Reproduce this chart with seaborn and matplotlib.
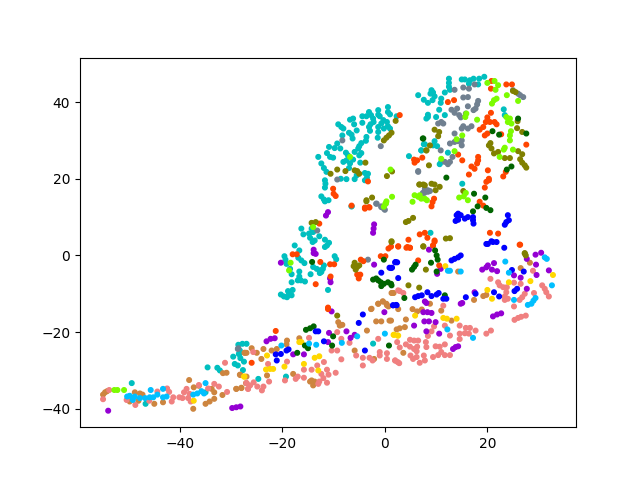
import matplotlib
matplotlib.use("Agg")
import matplotlib.pyplot as plt
import pandas as pd
import seaborn as sns

cyan_pts = [(-49.4,-33.3),(-46.7,-38.7),(-35,-35.7),(-34.6,-29.2),(-32.7,-29.3),(-32.2,-30),(-29.3,-28.3),(-28.7,-28.7),(-27.7,-29.9),(-29.6,-26.4),(-28.5,-25.7),(-28.2,-26.8),(-27.5,-27.7),(-28.6,-23.3),(-27.8,-23.05),(-27,-23.05),(-28.3,-24.8),(-28.4,-25.7),(-24.7,-32.2),(-19.3,-31.6),(-2.3,-23),
(-6.5,12.8),(-11.7,14.1),(-16.3,7),(-15.9,5.5),(-14.8,5.7),(-14.3,7),(-14,6.1),(-14.6,4.6),(-14.1,3.5),(-13.7,3.9),(-12.8,5),(-11.7,4.1),(-11.7,2.2),(-10.9,3.3),(-11.3,2.6),(-17.6,2.6),(-16.7,1.3),(-19.6,-0.2),(-19.4,-1.1),(-16.9,-0.6),(-16.3,-1.3),(-15.7,-2),(-19.2,-2.2),(-9.8,-0.2),(-9.5,-1),(-18.5,-3.5),(-18.2,-4.9),(-16.7,-4.2),(-16.7,-5.5),(-17,-6.5),(-16.4,-6.5),(-15.6,-6.8),(-18.2,-7),(-14,-3),(-13.3,-3.5),(-12.7,-3.9),(-12.1,-3.5),(-12.7,-4.6),(-14.5,-4.9),(-12.4,-4.3),(-11.1,-9),(-18,-9),(-18.9,-9.3),(-20.3,-10.2),(-19.7,-10.7),(-19.1,-10.9),(-18.2,-10.4),(-18.7,-10),(-11.9,-2.6),
(-13,25.7),(-12.4,24),(-11.9,22.8),(-11.4,21.8),(-11.3,26.7),(-10.7,25.7),(-10.1,25.5),(-10.9,28.3),(-9.8,28),(-9.3,29.2),(-8.7,27.9),(-9.1,34.2),(-8.5,33.5),(-8.1,33.1),(-8.3,31.3),(-7,32),(-6.5,31.5),(-6.3,30.5),(-5.5,32.6),(-6.8,35.4),(-6.2,35.7),(-6,34.2),(-4.4,34.6),(-4.4,36.3),(-3.6,36.3),(-3.1,37.4),(-2.7,36.6),(-2.3,35.7),(-2.8,34.2),(-3.1,33.5),(-2.9,32.5),(-2.2,34.8),(-1.3,37.9),(-1.3,36.7),(-1,36.3),(0.6,38.7),(0.6,37.4),(1,36.8),(-0.3,35.3),(0.4,34.8),(-0.7,34.4),(-1.3,33.5),(-1.3,32.2),(-0.2,33.1),(0.6,33.7),(1,33.1),(-3.6,30.9),(-3.7,29.9),(-4.6,29.3),(-5,28.5),(-5.2,27.9),(-5.9,27),(-4.6,26.7),(-5,26.1),(-7.6,26.8),(-7.2,26.1),(-7.5,24.8),(-8.1,24.4),(-6.2,25),(-6.8,24),(-7,22.8),(-4.8,24.2),(-3.9,21.5),(-3.3,21.3),(-3.5,20.3),(-5.5,20.9),(-5.9,19.9),(-3.9,19.6),(-7.5,19.9),(-8.6,20),(-11.7,19.6),(-11.6,18.7),(-11.7,17.7),(-12.4,15.4),(-11.9,14.6),(-11,14.4),(-6.5,12.8),(-1.4,30.7),(2.3,36.3),(7.8,29),(7.1,27.4),(4.7,25.9),(8.4,36.1),
(12.5,46.1),(12.5,45),(12.5,44),(12.7,43.2),(11.7,42.5),(15,45.9),(15.6,45.9),(16.6,45.7),(17.3,46.1),(18.4,46.1),(19.4,46.6),(16.4,44.8),(18.2,44.6),(6.5,41.8),(7.6,40.6),(8.4,39.8),(9.1,43.1),(9.4,42.5),(8.9,42.2),(9.7,41.5),(9.3,40.5),(11,40.9),(10.9,39.8),(10.6,38),(11.7,36.6),(8.4,36.7),(8.1,35.7),(10,36.1),(23.2,38.1),(23.4,36.6),(9.7,29.8),(9.4,28.7),(10.2,28.5),(7.6,29),(7.1,27.4),(12.3,26.8),(11,24.4),(10.7,23.8),(8.9,5.9),(15.1,18.7)]

peru_pts = [(-55,-36.3),(-54.6,-35.7),(-54.2,-35.4),(-49.8,-38.1),(-47.8,-36),(-47.3,-36.3),(-48.8,-35.7),(-48.1,-37.9),(-45,-38.7),(-43.3,-38.3),(-38.2,-32.5),(-37.3,-34.4),(-36.3,-34),(-33.8,-34.8),(-33.3,-35.7),(-31.7,-36.4),(-29,-34.8),(-28,-34.6),(-37.4,-40),(-35,-38.7),(-34.2,-38.1),(-33.3,-37.4),(-31.6,-30.7),(-30.9,-30.6),(-28.2,-31.2),(-27.4,-25.4),(-27,-25.4),
(-26,-24.2),(-27.3,-25.4),(-25,-25.4),(-23.7,-24.4),(-24.1,-27),(-22.1,-24.8),(-21.1,-24.4),(-19.1,-22.2),(-19.2,-23.2),(-16.7,-21.6),(-28.3,-31.1),(-27,-31.6),(-27.1,-33.3),(-28,-34.5),(-29,-34.8),(-23,-31.3),(-17.9,-30.9),(-14.3,-32.6),(-13.7,-32.9),(-14,-33.9),(-14.6,-32.9),(-9.1,-17.4),(-8.8,-18.3),(-8.3,-18.1),(-3.5,-19.6),(-2.7,-14),(-1.3,-12.6),(-0.4,-12),(0.4,-13),(-1.7,-17.2),(-0.7,-17.2),(0.9,-17),(-5.9,-24.8),(-2.1,-27),
(14.3,-4.2),(1.5,-9.8),(5.4,-14),(6.3,-14.6),(7.2,-14.1),(11,-14.4),(8.8,-12.6),(4.1,-16.7),(2.6,-14),(1.2,-17),(2.3,-19.3),(2.9,-19),(3.9,-18.7),(13,-17),(3.6,-25.4),(17.4,-11.6),(19.2,-10.6),(19.8,-10.3),(26.5,-3.3),(28.3,-1.9),
(1.3,-9.8),(1.7,-9.8),(-1.3,-12.6),(-0.4,-12),(0.3,-12.6),(0.7,-13.3),(-2.6,-13.9)]

coral_pts = [(-55,-37.5),(-53.8,-35.1),(-50.4,-37.7),(-48.7,-39),(-46,-37.9),(-44.4,-35.5),(-42.5,-34.7),(-42.1,-35.6),(-41.3,-37),(-41.6,-38.1),(-40.1,-37),(-39.2,-35.7),(-38.7,-34.8),(-39.5,-37.2),(-38.4,-37.2),(-38.1,-36.1),(-37.9,-38.1),(-36.3,-33.8),(-34.5,-34.7),(-33.3,-33.5),(-32.4,-34.2),(-30.8,-35.6),(-31.2,-28),(-27,-33.3),(-26.7,-34.8),
(-25.7,-25.2),(-22.8,-28.3),(-22.6,-32.9),(-23.7,-34.2),(-24,-35.2),(-27,-33.3),(-26.3,-33.9),(-26.7,-34.8),(-25.6,-33.1),(-24.9,-34.2),(-19.1,-27.7),(-19.5,-32.6),(-17.4,-32.2),(-17,-31.6),(-15.8,-29.8),(-15.8,-31.9),(-14.3,-29.8),(-14.8,-21.5),(-13.2,-28.7),(-11.9,-27.8),(-11.3,-29.8),(-12.4,-30.9),(-12,-32),(-11,-31.1),(-12.8,-32.9),(-13,-33.5),(-11.3,-33.2),(-9.6,-30.6),(-10.4,-24.8),(-9.3,-24.8),(-9.3,-20),(-8.5,-27.1),(-8.5,-21.75),(-6.9,-22.8),(-5.6,-26.1),(-4.3,-26.7),(-4.3,-28.7),(-3,-26.7),(-2.4,-27.4),(-1.3,-21.75),(-1,-25.2),(-1,-26.1),(0.4,-25.5),(0.4,-27),(2,-27.4),(2.5,-27.8),
(2.9,-9.3),(3.6,-9.8),(11.4,-13.1),(9.6,-18.5),(9.1,-19.8),(8.4,-21),(11.7,-18.3),(12.7,-20.9),(14.6,-18.3),(15.8,-18.9),(16.6,-18.9),(14.6,-20.4),(15.6,-20.3),(16.4,-20.4),(14.6,-21.8),(17.7,-19.6),(19.8,-20.4),(20.7,-19.6),(2.4,-22.6),(2.9,-24),(4.1,-23.2),(4.9,-22),(5.7,-22.2),(6.5,-22.2),(4.9,-23.8),(5.7,-24.4),(6.3,-23.8),(6.2,-25),(8,-22.6),(8.1,-23.9),(9.9,-23.7),(10.7,-23.8),(11.7,-23.2),(5,-26.1),(5.5,-27),(6.2,-26.5),(7.6,-26.1),(7.8,-27.4),(6.8,-28),(2,-27.4),(2.8,-28.1),(9.4,-26.5),(10.4,-26),(11,-25.2),(11.7,-26),(12.7,-26),
(20.6,-6.1),(22.1,-7),(22.4,-7.8),(23.1,-8.3),(23.8,-8.3),(25.2,-7.1),(26.5,-7.4),(28.9,-4),(23.7,-9.6),(23.4,-10.7),(24,-11.3),(23.4,-11.6),(27.3,-10),(26.8,-10.9),(26.3,-11.6),(29.1,-9.8),(30.7,-7.8),(31.2,-8.7),(31.5,-9.6),(32,-10.7),(25.2,-13.3),(25.3,-16.8),(26,-16.3),(26.6,-16),(27.5,-15.7),(2.6,-9.1)]

lawn_pts = [(-52.8,-35.1),(-52.2,-35.1),(-50.9,-35.1),(-14,7.4),(-18.4,-1.9),(-18.7,-3.9),(0.1,13.5),(0.3,14.1),(-6.8,25.7),(1.1,22.4),(1.4,15.3),(0.2,13.5),(-0.2,12.7),(5.8,15.7),(6.5,15.3),(7.1,14.8),(7.8,14.8),(5.4,14),(8.2,14.4),(6.8,15.7),
(20,45),(21.4,45.5),(22.1,44.4),(21.6,43.2),(23.8,41.8),(26,40.3),(21.8,40.9),(21.3,40.5),(20.9,39.6),(15.9,37),(15.7,36.1),(18,35.4),(15.1,31.3),(14,30.3),(13.6,27.2),(11,25.2),(23.7,36.1),(24.4,35.7),(24.7,34.4),(24,34.8),(24.6,32.4),(24.4,31.3),(24.4,30),(23.4,28.1),(23.2,27.6),(25,27.6),(22.4,25.7),(15.8,16.3),(14.5,15.1),(15.4,15.4),(16.2,14.4)]

sky_pts = [(-50.3,-36.8),(-49.8,-36.6),(-49.2,-37.2),(-48.8,-36.8),(-49.2,-37.7),(-47.8,-37.2),(-46.8,-37.2),(-45.9,-37),(-45.2,-37),(-44.4,-36.3),(-45.7,-35.1),(-43.3,-34.8),(-43.3,-37),(-42.6,-36.8),(-37.4,-36.3),(-36.6,-36),(-35.8,-35.4),(-35.3,-36),(-35,-33.3),(-20.2,-23.5),(-14.8,-23),(-13.4,-23.3),(-8.4,-22.8),(-5.4,-21.1),(0,-20.4),
(12.3,-4),(12.7,-4),(14.8,-4.2),(23.5,-1.6),(24.2,-4.5),(31.2,-0.5),(31.6,-0.9),(32.6,-7.8),(25.2,-11.6),(27.9,-12.9),(28.6,-12.6),(29,-11.8),(29.4,-11.1),(12.2,-19.3),(17.2,-21.5)]

gold_pts = [(-37.3,-37.9),(-27.5,-31.6),(-23,-26.1),(-23.2,-29.75),(-22.4,-29.6),(-21.8,-29.6),(-19.6,-29),(-27.4,-31.6),(-16.7,-22.6),(-16.3,-22.6),(-15.8,-28.3),(-13.7,-26.7),(-12.8,-26.3),(-13,-30),(1.7,-20.7),(2.5,-20.9),
(11.8,-2.8),(32.8,-5.1),(24.2,-7),(28.4,-6.7),(20,-9),(20.9,-11.3),(5.9,-15.7),(11.4,-16.3),(12.1,-16.5),(14,-16.5),(1.8,-20.7),(2.6,-20.9)]

violet_pts = [(-54,-40.5),(-29.8,-39.8),(-29,-39.6),(-28.2,-39.4),(-23.1,-22.4),(-22.3,-21.75),(-21.5,-21.6),(-17.9,-25.8),(-15.8,-25.8),(-10.9,-20.2),(-11.1,-22.6),(-7.5,-19.8),(-6.7,-21.5),(-5.9,-20.7),(-0.1,-14.8),(-10.4,-14.6),
(8.6,1.5),(10.9,-3.5),(10.2,-4.8),(7.8,-12),(8.1,-12.4),(7.5,-14.8),(8.3,-14.8),(9.1,-15),(7.7,-17.2),(8.6,-17.2),(9.9,-17.4),(5.7,-18.3),(8.1,-19.8),(10.6,-20.4),(13.3,-24.4),(13.8,-23.9),(14.3,-23.7),(14.8,-12.6),(15.1,-12.4),(17.5,-9.6),(19,-3.7),(19.8,-3.1),(20.1,-2.6),(21.3,-2),(20.9,-3.7),(21.9,-4.1),(27.7,-0.9),(29.4,0.2),(30.5,0.7),(29.5,-2.4),(32,-3.9),(25.2,-5.2),(26.5,-5.8),(29.6,-5.1),(27.7,-8.7),(21.1,-15.9),(21.9,-15.4),(22.7,-15.1),
(-11.1,11.3),(-11.5,10.4),(-2.1,8.1),(-2.2,7),(-2.3,5.9),(-13.9,1.5),(-13.9,0.6),(-13.5,0.4),(-20.3,-1.9),(-10.7,-6),(-10.6,-7),(-2.1,-2.4)]

slate_pts = [(-28.7,-24.4),(-28.6,-24.2),(-13.2,6.5),(-3.3,-1.1),(-1.7,13.5),(-0.7,12.6),(0,11.9),(-8.3,30),(-0.8,28.5),(6.5,22),(-9.3,19.8),(7.8,17.4),(7.4,16.3),(8.4,16.6),(-1.6,13.5),(-0.7,12.8),(-0.2,12.2),
(10.4,34.4),(11,34.8),(11.4,34.4),(13.6,43.2),(15.3,43.8),(16.4,43.5),(17.5,44.6),(16.2,41.3),(15.3,41.2),(16.2,38.9),(18.2,40.3),(18,39.4),(17.7,38.3),(17.3,37.9),(13,38),(14.1,38.3),(13.6,37.2),(14.5,36.6),(14.8,36),(15.8,37),(15.3,33.7),(16.2,33.1),(16.9,33.7),(15,33.1),(13.6,31.8),(14.3,29.8),(15,30),(12.7,29.2),(13.6,29.6),(15,28.7),(10.9,27.4),(13.2,25.7),(12.7,24.4),(11.7,24.4),(12.3,23.8),(6.5,21.8),(25,43.1),(26,42.2),(26.4,41.8),(27,41.3),(7.8,17),(7.7,16.3),(8.4,17),(8.8,16.8)]

red_pts = [(-21.3,-19.7),(-26,-28),(-11.1,-14),(1.2,2.3),(2.6,2.3),(4.4,2.2),(4.9,2),(9.4,2.6),(9.7,3.6),(6.5,-1.3),(10.6,-2.6),(26.3,2.8),
(-12.8,8.3),(-18,0.3),(-17.2,0.3),(-12.6,-1.7),(-10.7,-2.3),(-9.9,-2.3),(-10.6,-5.5),(-13.5,-7.5),(-4.7,-1.1),(-4.2,-1.5),(-5.4,-5),(-4.8,-5),(-5.1,-6),(0.7,1.8),(-0.8,-0.2),(0.1,-0.2),(-3.9,12.2),(-3.1,12.6),(-11.1,-13.6),
(2.9,36.6),(-3.3,19.3),(-10.1,17.4),(-10,16.1),(-9.6,15.5),(5.7,25),(6.3,24.8),(5.8,24.2),(7.3,25.5),(-6.5,13),(-3.9,12.5),(-3,12.5),
(20.8,45.5),(20.7,43.5),(23.7,44.6),(24.8,44.6),(12.3,40),(13.5,40.5),(20.7,37.2),(20,36),(19.7,34.8),(20.5,34.8),(21.4,34.8),(21.8,34.2),(19.2,33.5),(18.5,32.8),(19.5,31.3),(20,31.8),(22.7,31.6),(27.6,28.9),(14.3,26.3),(15.1,24.8),(18.2,25.7),(18.2,24.8),(18,24),(16.9,23.2),(17.5,22.6),(16.4,21.1),(20.1,22.2),(20.3,20),(23.6,21.8),
(19.8,19.2),(20.3,19.6),(19.5,17.7),(23.1,20.6),(18.5,14),(19.2,13),(9.6,14.8),(9.3,13.9),(9.1,12.8),(6.8,5.5),(7.8,5.9),(8.3,4.6),(4.6,4.1),(2.6,2.4),(4.2,2),(4.9,2),(9.7,3.9),(9.4,2.6),(20.5,5.9),(22.1,5.7),(26.4,2.8)]

olive_pts = [(-9.3,-15.7),(7.5,2.3),(8,-3.7),(4.6,-7.8),(6.7,-8.4),(27.3,0.6),(27.5,0),(-14.3,8.5),(-13.5,8.7),(-5.9,-1.9),(-6.1,-2.8),(-5.4,-3),(-5,-2.6),(-5.7,-3.7),(1.3,3.5),(-3.6,14.1),
(1.3,32),(0.8,31.3),(0.3,30.7),(-0.2,30),(2.1,35.1),(-10.6,21.3),(-9.3,22.4),(-7.7,22),(-5.9,22.2),(-5.4,22),(-5,21.3),(-3.8,24.2),(8.1,27.4),(0.4,20.7),(1.4,21.9),(-2.5,15.1),(-3.6,14.4),(6.8,18.5),(7.8,18.3),
(9.7,32.8),(10.6,32.2),(10.4,31.1),(20.3,28.7),(20.6,29.3),(20.8,27.9),(21.3,26.6),(22.1,27),(23.4,25.4),(24.4,25.4),(8.8,28.7),(8.1,27.4),(8.6,23.5),(25.8,33.2),(26.8,32.2),(25.9,35),(26,27.2),(26.8,26.4),(26.4,25.1),(26.8,24.2),(27.3,23.5),(27.6,22.9),(25,42.9),(25.5,42.6),
(4.1,8.7),(4.6,9),(5.5,9.8),(6.7,18.5),(7.5,18.5),(9.1,18.7),(9.7,18.5),(10.7,17.9),(9.9,17),(15.3,16.8),(11.9,4.4),(12.7,4.5),(7.5,2.4),(1.3,3.7),(27.3,0.5)]

blue_pts = [(-21.3,-25.8),(-20.3,-25.7),(-19.2,-24.8),(-18.8,-24.5),(-21.1,-27.4),(-13.5,-19.8),(-13,-19.8),(-11.9,-22.4),(-5.1,-17.6),(-4.3,-15.4),(-3.9,-24.8),(1.6,-13),(2.2,-12.9),
(20.1,3),(21.1,3.5),(21.8,3.5),(23.3,2),(13,-1.3),(13.6,-0.9),(14.3,-0.5),(14.8,0),(2,-1.8),(2.4,-1.8),(1.2,-3.3),(2.6,-5.9),(5.9,-10.9),(6.5,-10.6),(7.2,-10.4),(8.3,-9.6),(9.1,-10.6),(10.1,-10.2),(10.5,-9.8),(11.4,-11.3),(12,-11.3),(15.8,-10.9),(17.7,-10),(21.3,-9.6),(22.3,-10.7),(1.6,-13),(2.3,-13),(24.8,-3.8),(27.1,-4.2),(25.3,-9.3),(25.8,-8.7),
(2.1,-1.7),(0.9,-3.2),(1.4,-3.2),(-0.7,-4.5),(14,10.5),(14.3,10.9),(14.8,10.5),(13.8,9),(14.3,9.3),(15.6,9.6),(16.2,10),(17.2,10),(17.2,9.2),(17.3,8.3),(24,10.5),(24.2,9.2),(23.7,8.7),(23.4,8),(19.8,3),(20.8,3.7)]

green_pts = [(-17.1,-25.4),(-15.4,-19.4),(-14.6,-19),(-13.9,-18.5),(-15.6,-23.5),(-15,-24.2),(-10.1,-21.1),(-10.3,-23.5),(0.8,-23.5),
(9.8,1.3),(10.1,0),(10.3,-1.1),(9,-1.9),(6,-2.4),(5.7,-3),(5.3,-3.7),(10.1,-4.2),(11.7,-10.4),(3.8,-11.1),(1.2,-7.4),
(-14.2,-1.7),(-0.2,-1.1),(-2.3,-6.3),(-1.7,-6),(-1.3,-6.5),(-0.8,-7),(-0.7,-8),(-0.2,-7.4),(0.6,-7),(1.3,-7.8),(7.4,30.5),
(7.5,30.5),(26,35.7),(21,32.4),(22.3,31.5),(27.6,31.8),(24.7,23.2),(23.8,22.4),(12,20.3),(17.4,16.1),(19.6,15.1),(18.1,12.8),(17.2,11.5),(19.8,12.4),(20.6,11.8)]

groups = {
    "c": cyan_pts, "peru": peru_pts, "lightcoral": coral_pts, "darkviolet": violet_pts,
    "slategray": slate_pts, "orangered": red_pts, "olive": olive_pts, "lawngreen": lawn_pts,
    "gold": gold_pts, "darkgreen": green_pts, "blue": blue_pts, "deepskyblue": sky_pts,
}

frames = [pd.DataFrame(pts, columns=["x", "y"]).assign(group=name) for name, pts in groups.items()]
df = pd.concat(frames, ignore_index=True)

fig, ax = plt.subplots(figsize=(6.4, 4.8), dpi=100)
sns.scatterplot(data=df, x="x", y="y", hue="group", palette={k: k for k in groups},
                s=11, edgecolor="face", linewidth=1, legend=False, ax=ax)
ax.set_xlabel("")
ax.set_ylabel("")
ax.set_xlim(-59.5, 37.3)
ax.set_ylim(-44.8, 51.6)
ax.set_xticks([-40, -20, 0, 20])
ax.set_yticks([-40, -20, 0, 20, 40])
fig.savefig("out.png", dpi=100)
